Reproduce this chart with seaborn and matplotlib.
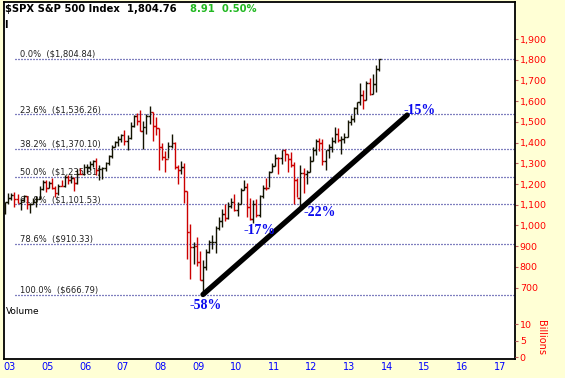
import numpy as np
import pandas as pd
import matplotlib
matplotlib.use("Agg")
import matplotlib.pyplot as plt
import seaborn as sns

# ---------------- data ----------------
months = [str(p) for p in pd.period_range("2003-12", "2013-11", freq="M")]

opens = [1058.20,
         1111.92, 1131.13, 1144.94, 1126.21, 1107.30, 1120.68, 1140.84, 1101.72, 1104.24, 1114.58, 1130.20, 1173.82,
         1211.92, 1181.27, 1203.60, 1180.59, 1156.85, 1191.50, 1191.33, 1234.18, 1220.33, 1228.81, 1207.01, 1249.48,
         1248.29, 1280.08, 1280.66, 1294.87, 1310.61, 1270.09, 1270.20, 1276.66, 1303.82, 1335.85, 1377.94, 1400.63,
         1418.30, 1438.24, 1406.82, 1420.86, 1482.37, 1530.62, 1503.35, 1455.27, 1473.99, 1526.75, 1549.38, 1481.14,
         1468.36, 1378.55, 1330.63, 1322.70, 1385.59, 1400.38, 1280.00, 1267.38, 1282.83, 1166.36, 968.75, 896.24,
         903.25, 825.88, 735.09, 797.87, 872.81, 919.14, 919.32, 987.48, 1020.62, 1057.08, 1036.19, 1095.63,
         1115.10, 1073.87, 1104.49, 1169.43, 1186.69, 1089.41, 1030.71, 1101.60, 1049.33, 1141.20, 1183.26, 1180.55,
         1257.64, 1286.12, 1327.22, 1325.83, 1363.61, 1345.20, 1320.64, 1292.28, 1218.89, 1131.42, 1253.30, 1246.96,
         1257.60, 1312.41, 1365.68, 1408.47, 1397.91, 1310.33, 1362.16, 1379.32, 1406.58, 1440.67, 1412.16, 1416.18,
         1426.19, 1498.11, 1514.68, 1569.19, 1597.57, 1630.74, 1606.28, 1685.73, 1632.97, 1681.55, 1756.54]

highs = [1112.56,
         1155.38, 1158.98, 1163.23, 1150.57, 1127.74, 1146.34, 1140.84, 1109.68, 1131.54, 1142.05, 1188.46, 1217.33,
         1217.80, 1212.44, 1229.11, 1191.88, 1199.56, 1219.59, 1245.15, 1245.86, 1243.13, 1233.34, 1270.64, 1275.80,
         1294.90, 1297.57, 1310.88, 1318.16, 1326.70, 1290.68, 1280.42, 1306.74, 1340.28, 1389.45, 1407.89, 1431.81,
         1441.61, 1461.57, 1438.89, 1498.02, 1535.56, 1540.56, 1555.90, 1503.89, 1538.74, 1576.09, 1545.79, 1523.57,
         1471.77, 1396.02, 1359.68, 1404.57, 1440.24, 1404.05, 1292.17, 1313.15, 1303.04, 1167.03, 1007.51, 918.85,
         943.85, 875.01, 832.98, 888.70, 930.17, 956.23, 996.68, 1039.47, 1080.15, 1101.36, 1113.69, 1130.38,
         1150.45, 1112.42, 1180.16, 1219.80, 1203.74, 1131.23, 1120.95, 1129.24, 1148.90, 1196.14, 1227.08, 1262.60,
         1302.67, 1344.07, 1332.28, 1364.56, 1370.58, 1345.20, 1356.48, 1307.38, 1229.29, 1292.66, 1277.55, 1269.37,
         1333.47, 1378.04, 1419.15, 1422.38, 1415.32, 1363.46, 1391.74, 1426.68, 1474.51, 1470.96, 1434.27, 1448.00,
         1509.94, 1530.94, 1570.28, 1597.57, 1687.18, 1654.19, 1698.78, 1709.67, 1729.86, 1775.22, 1804.84]

lows = [1053.41,
        1105.08, 1124.44, 1087.16, 1107.23, 1076.32, 1113.32, 1078.78, 1060.72, 1101.29, 1090.19, 1127.60, 1173.37,
        1163.75, 1180.95, 1176.92, 1136.15, 1146.18, 1188.30, 1183.55, 1201.07, 1205.35, 1168.20, 1201.07, 1246.59,
        1245.74, 1253.61, 1268.42, 1280.74, 1245.34, 1219.29, 1224.54, 1261.30, 1290.93, 1327.10, 1377.83, 1385.93,
        1403.97, 1389.42, 1363.98, 1416.37, 1476.70, 1484.18, 1454.25, 1370.60, 1439.29, 1489.56, 1406.10, 1435.65,
        1270.05, 1316.75, 1256.98, 1324.35, 1373.07, 1272.00, 1200.44, 1248.64, 1106.42, 839.80, 741.02, 815.69,
        804.22, 734.52, 666.79, 783.32, 866.10, 888.86, 869.32, 978.51, 992.25, 1019.95, 1029.38, 1085.89,
        1071.59, 1044.50, 1105.24, 1170.69, 1040.78, 1028.33, 1010.91, 1039.70, 1039.78, 1131.87, 1173.00, 1186.60,
        1257.62, 1289.14, 1249.05, 1294.70, 1311.80, 1258.07, 1282.86, 1101.54, 1136.22, 1074.77, 1158.66, 1202.37,
        1258.86, 1312.41, 1340.03, 1357.38, 1291.98, 1266.74, 1325.41, 1354.65, 1396.56, 1403.28, 1343.35, 1398.11,
        1426.19, 1485.01, 1501.48, 1536.03, 1581.28, 1560.33, 1604.57, 1627.47, 1633.41, 1646.47, 1746.20]

closes = [1111.92,
          1131.13, 1144.94, 1126.21, 1107.30, 1120.68, 1140.84, 1101.72, 1104.24, 1114.58, 1130.20, 1173.82, 1211.92,
          1181.27, 1203.60, 1180.59, 1156.85, 1191.50, 1191.33, 1234.18, 1220.33, 1228.81, 1207.01, 1249.48, 1248.29,
          1280.08, 1280.66, 1294.87, 1310.61, 1270.09, 1270.20, 1276.66, 1303.82, 1335.85, 1377.94, 1400.63, 1418.30,
          1438.24, 1406.82, 1420.86, 1482.37, 1530.62, 1503.35, 1455.27, 1473.99, 1526.75, 1549.38, 1481.14, 1468.36,
          1378.55, 1330.63, 1322.70, 1385.59, 1400.38, 1280.00, 1267.38, 1282.83, 1166.36, 968.75, 896.24, 903.25,
          825.88, 735.09, 797.87, 872.81, 919.14, 919.32, 987.48, 1020.62, 1057.08, 1036.19, 1095.63, 1115.10,
          1073.87, 1104.49, 1169.43, 1186.69, 1089.41, 1030.71, 1101.60, 1049.33, 1141.20, 1183.26, 1180.55, 1257.64,
          1286.12, 1327.22, 1325.83, 1363.61, 1345.20, 1320.64, 1292.28, 1218.89, 1131.42, 1253.30, 1246.96, 1257.60,
          1312.41, 1365.68, 1408.47, 1397.91, 1310.33, 1362.16, 1379.32, 1406.58, 1440.67, 1412.16, 1416.18, 1426.19,
          1498.11, 1514.68, 1569.19, 1597.57, 1630.74, 1606.28, 1685.73, 1632.97, 1681.55, 1756.54, 1804.76]

prior_close = 1058.20  # close of the month before the first bar

fib_pcts = ["0.0%", "23.6%", "38.2%", "50.0%", "61.8%", "78.6%", "100.0%"]
fib_prices = [1804.84, 1536.26, 1370.10, 1235.81, 1101.53, 910.33, 666.79]

trend_months = ["2009-03", "2014-08"]
trend_prices = [666.79, 1533.0]

annot_texts = ["-58%", "-17%", "-22%", "-15%"]
annot_months = ["2009-04", "2010-09", "2012-04", "2014-12"]
annot_prices = [616, 978, 1065, 1557]

year_labels = ["03", "05", "06", "07", "08", "09", "10", "11", "12", "13", "14", "15", "16", "17"]
year_ticks = list(range(2004, 2018))

price_ticks = list(range(700, 2000, 100))
vol_ticks = [0, 5, 10]

title_main = "$SPX S&P 500 Index  1,804.76"
title_chg = "8.91  0.50%"


def mi(period):
    y, m = period.split("-")
    return (int(y) - 2003) * 12 + int(m) - 12


# ---------------- style ----------------
sns.set_style("white")
plt.rcParams["font.family"] = ["DejaVu Sans"]

BG = "#ffffd5"
UP = "#121200"
DOWN = "#cc0000"
RED = "#ff0000"
BLUE = "#0000ff"

fig = plt.figure(figsize=(5.65, 3.78), dpi=100, facecolor=BG)
W, H = 565, 378
ax = fig.add_axes([4 / W, 19 / H, 511 / W, 357 / H])
ax.set_facecolor("white")
ax.set_xlim(-0.32, 162.3)
ax.set_ylim(355.6, 2078.6)

# volume scale (twin axis, right side)
ax2 = ax.twinx()
ax2.set_ylim(-0.52, 107.7)
ax2.set_yticks(vol_ticks)
ax2.set_yticklabels([str(v) for v in vol_ticks])
ax2.tick_params(axis="y", length=2.5, width=0.8, color="#c06060", pad=1,
                labelsize=6.8, labelcolor=RED)
for s in ax2.spines.values():
    s.set_visible(False)
ax2.grid(False)

# fib levels
for pct, p in zip(fib_pcts, fib_prices):
    ax.axhline(p, xmin=11 / 511, xmax=1, color="#000080", lw=0.9,
               ls=(0, (0.8, 1.6)), zorder=1)
    ax.annotate(f"{pct}  (${p:,.2f})", xy=(16 / 511, p),
                xycoords=("axes fraction", "data"), xytext=(0, 1.5),
                textcoords="offset points", va="baseline", ha="left",
                fontsize=6, color="#222222", zorder=1)

# OHLC bars
xs = np.array([mi(m) for m in months], dtype=float)
prevs = [prior_close] + closes[:-1]
cols = [UP if c >= pc else DOWN for c, pc in zip(closes, prevs)]
ax.vlines(xs, lows, highs, colors=cols, lw=1.0, zorder=3)
ax.hlines(opens, xs - 0.6, xs, colors=cols, lw=1.0, zorder=3)
ax.hlines(closes, xs, xs + 0.6, colors=cols, lw=1.0, zorder=3)

# trend line
sns.lineplot(x=[mi(m) for m in trend_months], y=trend_prices, ax=ax,
             color="black", lw=3.8, solid_capstyle="round", zorder=4)

# annotations
for t, m, p in zip(annot_texts, annot_months, annot_prices):
    ax.text(mi(m), p, t, ha="center", va="center", color="#0a0aee",
            fontweight="bold", fontsize=10, family=["Liberation Serif"], zorder=5)

# axes formatting
ax.set_xticks([mi(f"{y}-01") + 0.5 for y in year_ticks])
ax.set_xticklabels(year_labels)
ax.tick_params(axis="x", length=0, pad=2.5, labelsize=7, labelcolor=BLUE)
ax.yaxis.tick_right()
ax.set_yticks(price_ticks)
ax.set_yticklabels([f"{v:,}" for v in price_ticks])
ax.tick_params(axis="y", right=True, left=False, labelright=True, labelleft=False,
               length=2.5, width=0.8, color="#c06060", pad=1, labelsize=6.8,
               labelcolor=RED)
ax.set_xlabel("")
ax.set_ylabel("")
ax.grid(False)
for s in ax.spines.values():
    s.set_visible(True)
    s.set_color("black")
    s.set_linewidth(1.3)

fig.text(541 / W, 1 - 338 / H, "Billions", rotation=270, color=RED,
         fontsize=7, ha="center", va="center")
ax.text(2 / 511, (359 - 311) / 357, "Volume", transform=ax.transAxes,
        ha="left", va="center", fontsize=6.5, color="black")

t1 = fig.text(5 / W, 1 - 9.5 / H, title_main, fontweight="bold", fontsize=7.2,
              color="black", ha="left", va="center")
fig.text(4 / W, 1 - 24.5 / H, "I", fontweight="bold", fontsize=7,
         color="black", ha="left", va="center")
ax.annotate(title_chg, xy=(1, 0), xycoords=t1, xytext=(13, 0),
            textcoords="offset pixels", ha="left", va="bottom",
            fontweight="bold", fontsize=7.2, color="#22b822",
            annotation_clip=False)

fig.savefig("out.png", dpi=100, facecolor=BG)
